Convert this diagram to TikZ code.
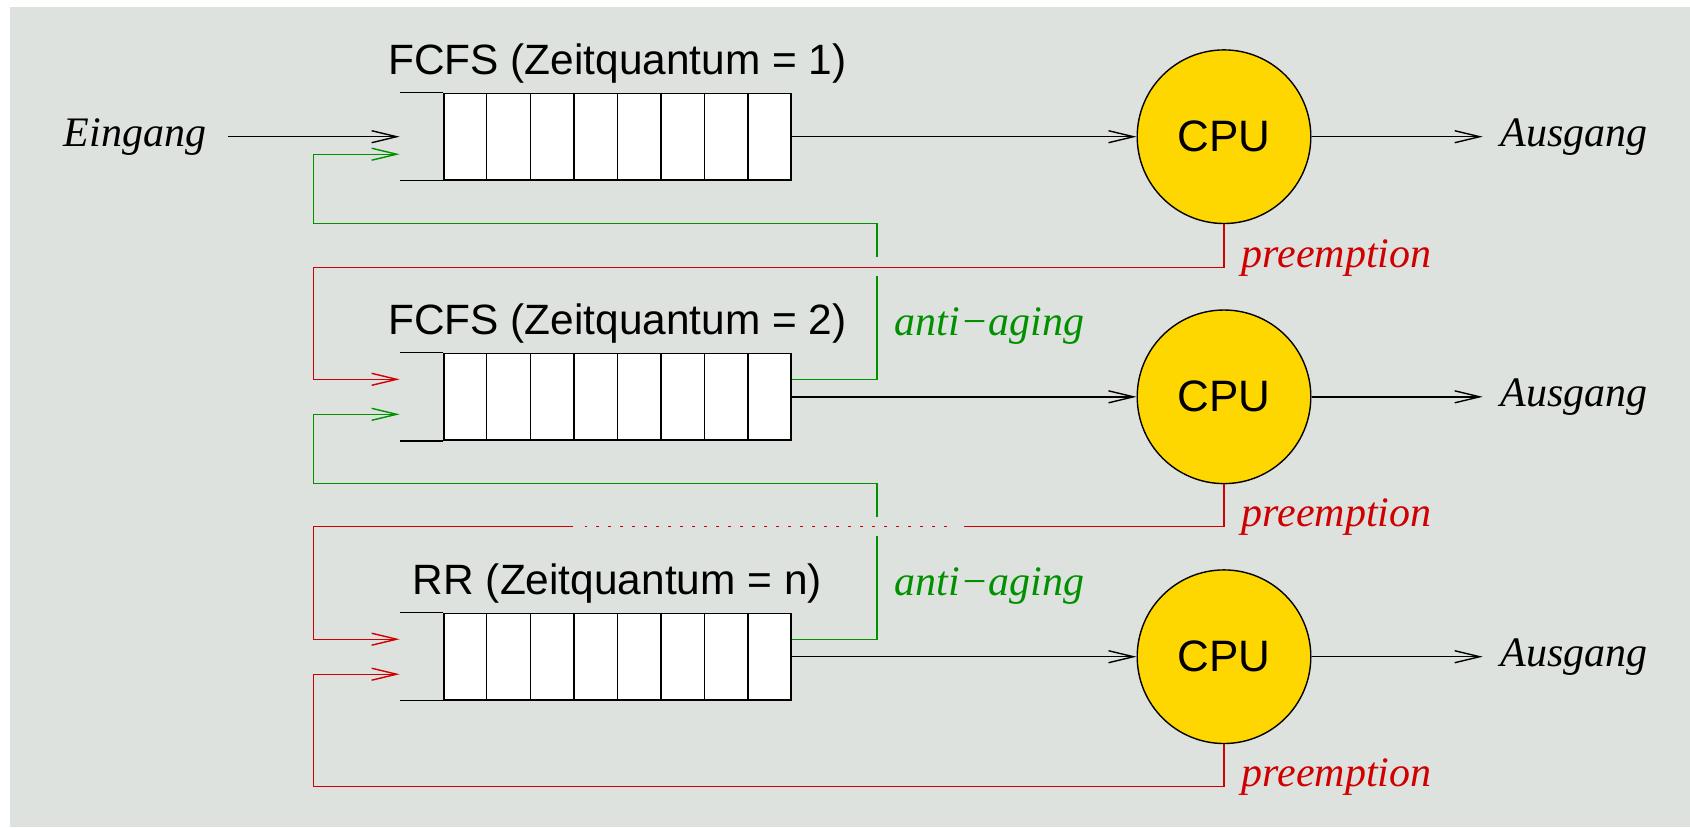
\documentclass[tikz,border=0pt]{standalone}
\usepackage{fontspec}
\setmainfont{Liberation Serif}
\setsansfont{Liberation Sans}
\usetikzlibrary{arrows.meta,calc}
\definecolor{bggray}{RGB}{222,226,223}
\definecolor{xred}{RGB}{208,0,0}
\definecolor{xgreen}{RGB}{0,144,0}
\definecolor{cpugold}{RGB}{255,215,0}
\begin{document}
\begin{tikzpicture}[x=0.5pt,y=-0.5pt,line width=0.7pt,
  arr/.style={-{Straight Barb[length=12.5pt,width=6pt]}},
  queue/.style={draw,fill=white,minimum width=173.5pt,minimum height=43.35pt,inner sep=0pt},
  cpu/.style={circle,draw,fill=cpugold,minimum size=86.8pt,inner sep=0pt,font=\sffamily\fontsize{22pt}{26pt}\selectfont},
  qlabel/.style={anchor=base,inner sep=0pt,font=\sffamily\fontsize{21.2pt}{25pt}\selectfont},
  io/.style={inner ysep=0pt,font=\itshape\fontsize{21pt}{25pt}\selectfont},
  redtxt/.style={anchor=base west,inner sep=0pt,text=xred,font=\itshape\fontsize{21pt}{25pt}\selectfont},
  greentxt/.style={anchor=base west,inner sep=0pt,text=xgreen,font=\itshape\fontsize{21pt}{25pt}\selectfont},
  redline/.style={draw=xred},
  greenline/.style={draw=xgreen},
  dotline/.style={draw=xred,dash pattern=on 1.2pt off 4.8pt}]
\useasboundingbox (0,0) rectangle (1690,827);
\fill[bggray] (10,7) rectangle (1690,827);

% queues
\node[queue] (q1) at (617.35,136.7) {};
\node[queue] (q2) at (617.35,396.8) {};
\node[queue] (q3) at (617.35,656.7) {};
\foreach \q in {q1,q2,q3}{
  \foreach \i in {1,...,7}
    \draw ($(\q.north west)!\i/8!(\q.north east)$) -- ($(\q.south west)!\i/8!(\q.south east)$);
  \draw (\q.north west) -- ++(-43,0);
  \draw (\q.south west) -- ++(-43,0);
  \coordinate (\q inA) at ($(\q.west)+(-43.5,-17.5)$);
  \coordinate (\q inB) at ($(\q.west)+(-43.5,17.5)$);
  \coordinate (\q inC) at ($(\q.west)+(-43.5,0)$);
  \coordinate (\q out) at ($(\q.east)+(0,-17.5)$);
}

% queue labels
\node[qlabel] (l1) at ($(q1.north)+(0,-18.3)$) {FCFS (Zeitquantum = 1)};
\node[qlabel] (l2) at ($(q2.north)+(0,-18.3)$) {FCFS (Zeitquantum = 2)};
\node[qlabel] (l3) at ($(q3.north)+(0,-18.3)$) {RR (Zeitquantum = n)};

% CPUs
\node[cpu] (c1) at (1224,136.7) {CPU};
\node[cpu] (c2) at (1224,396.8) {CPU};
\node[cpu] (c3) at (1224,656.7) {CPU};

% input / outputs
\node[io,anchor=east,inner xsep=10.5pt] (ein) at (228,136.7) {Eingang};
\draw[arr] (ein.east) -- (q1inC);
\node[io,anchor=west,inner xsep=8.5pt] (a1) at (1482.7,136.7) {Ausgang};
\node[io,anchor=west,inner xsep=8.5pt] (a2) at (1482.7,396.8) {Ausgang};
\node[io,anchor=west,inner xsep=8.5pt] (a3) at (1482.7,656.7) {Ausgang};
\foreach \i in {1,2,3}{
  \draw[arr] (q\i.east) -- (c\i.west);
  \draw[arr] (c\i.east) -- (a\i.west);
}

% preemption loops
\draw[redline,arr] (c1.south) |- (313.3,267.3) |- (q2inA);
\draw[redline] (c2.south) |- (964,526.7);
\draw[dotline] (946.5,526.7) -- (585,526.7);
\draw[redline,arr] (573.4,526.7) -- (313.3,526.7) |- (q3inA);
\draw[redline,arr] (c3.south) |- (313.3,786.7) |- (q3inB);
\node[redtxt] (p1) at (1241,267.3) {preemption};
\node[redtxt] (p2) at (1241,526.7) {preemption};
\node[redtxt] (p3) at (1241,786.7) {preemption};

% anti-aging loops
\draw[greenline] (q2out) -| (877,276);
\draw[greenline,arr] (877,257.3) |- (313.3,223.3) |- (q1inB);
\draw[greenline] (q3out) -| (877,536);
\draw[greenline,arr] (877,517) |- (313.3,483.7) |- (q2inB);
\node[greentxt] (ag1) at (894,335) {anti−aging};
\node[greentxt] (ag2) at (894,595) {anti−aging};
\end{tikzpicture}
\end{document}
